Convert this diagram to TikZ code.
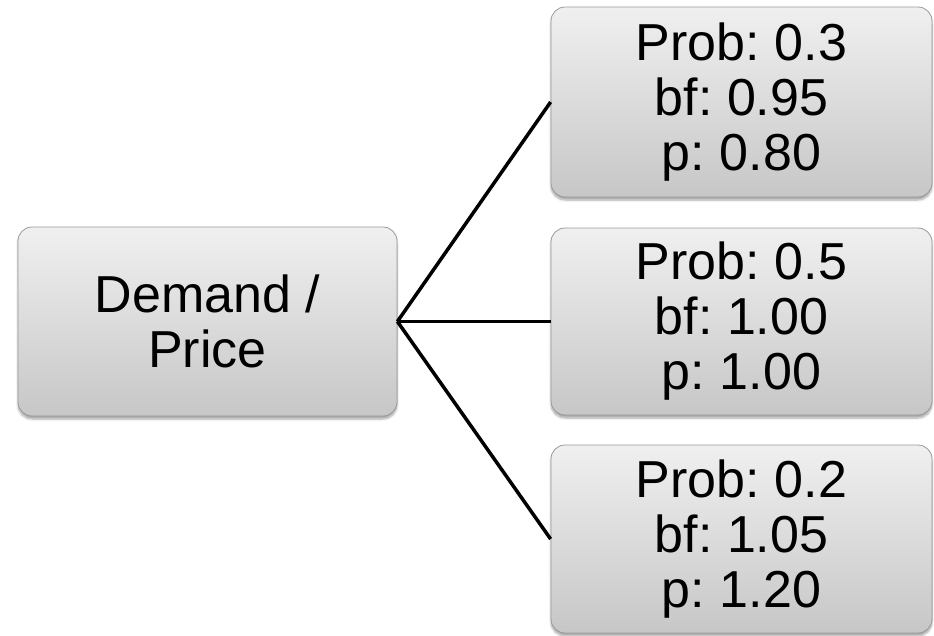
\documentclass[tikz,border=0pt]{standalone}
\usepackage{fontspec}
\setmainfont{Liberation Sans}
\usetikzlibrary{shadows.blur}
\begin{document}
\frenchspacing
\begin{tikzpicture}[x=1pt,y=-1pt,
  card/.style={rounded corners=14pt, draw=black!40, line width=0.8pt,
    top color=black!6, bottom color=black!22,
    blur shadow={shadow xshift=0pt, shadow yshift=-3pt, shadow blur steps=6, shadow opacity=35},
    align=center, inner sep=0pt,
    font=\fontsize{52}{55}\selectfont},
  branch/.style={line width=3.5pt, black}]
  \useasboundingbox (0,0) rectangle (934,635);
  \node[card, minimum width=379pt, minimum height=189pt] (root) at (207.5,321.5) {Demand /\\Price};
  \node[card, minimum width=381pt, minimum height=190pt] (low) at (741.5,102) {Prob: 0.3\\bf: 0.95\\p: 0.80};
  \node[card, minimum width=381pt, minimum height=187pt] (mid) at (741.5,321.5) {Prob: 0.5\\bf: 1.00\\p: 1.00};
  \node[card, minimum width=381pt, minimum height=188pt] (high) at (741.5,539) {Prob: 0.2\\bf: 1.05\\p: 1.20};
  \draw[branch] (root.east) -- (low.west);
  \draw[branch] (root.east) -- (mid.west);
  \draw[branch] (root.east) -- (high.west);
\end{tikzpicture}
\end{document}
